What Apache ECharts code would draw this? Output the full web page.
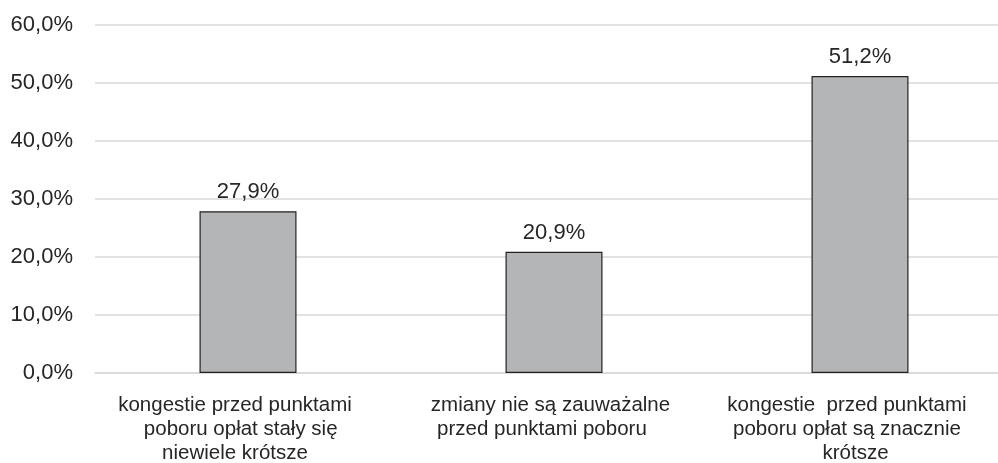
<!DOCTYPE html>
<html><head><meta charset="utf-8">
<script src="https://cdn.jsdelivr.net/npm/echarts@6/dist/echarts.min.js"></script>
<style>html,body{margin:0;padding:0;background:#fff}#c{width:998px;height:463px}</style>
</head><body><div id="c"></div>
<script>
const categories = [
  "kongestie przed punktami\n  poboru opłat stały się\nniewiele krótsze",
  "zmiany nie są zauważalne\nprzed punktami poboru   ",
  "kongestie  przed punktami\npoboru opłat są znacznie\n   krótsze"
];
const values = [27.9, 20.9, 51.2];
const yTicks = { min: 0, max: 60, interval: 10 };
const labelShift = [26, 7, 26];

const fmt = v => v.toFixed(1).replace('.', ',') + '%';
const chart = echarts.init(document.getElementById('c'), null, { renderer: 'canvas' });
chart.setOption({
  animation: false,
  textStyle: { fontFamily: 'Liberation Sans, Arial, sans-serif' },
  grid: { left: 95, right: -15, top: 25, bottom: 90, containLabel: false, outerBoundsMode: 'none' },
  xAxis: {
    type: 'category',
    data: categories.map((c, i) => ({ value: c, textStyle: { padding: [0, labelShift[i], 0, 0] } })),
    axisLine: { show: true, lineStyle: { color: '#d9d9d9', width: 1.5 } },
    axisTick: { show: false },
    axisLabel: { color: '#262626', fontSize: 20.5, lineHeight: 24, margin: 20, interval: 0,
      fontFamily: 'Liberation Sans, Arial, sans-serif' }
  },
  yAxis: {
    type: 'value', min: yTicks.min, max: yTicks.max, interval: yTicks.interval,
    axisLine: { show: false }, axisTick: { show: false },
    splitLine: { lineStyle: { color: '#d9d9d9', width: 1.5 } },
    axisLabel: { color: '#262626', fontSize: 22, margin: 22,
      formatter: v => v.toFixed(1).replace('.', ',') + '%',
      fontFamily: 'Liberation Sans, Arial, sans-serif' }
  },
  series: [{
    type: 'bar', data: values, barWidth: 97,
    itemStyle: { color: '#b4b5b7', borderColor: '#222', borderWidth: 1.2 },
    label: { show: true, position: 'top', distance: 8, color: '#262626', fontSize: 22,
      formatter: p => fmt(p.value), fontFamily: 'Liberation Sans, Arial, sans-serif' }
  }]
});
</script></body></html>
